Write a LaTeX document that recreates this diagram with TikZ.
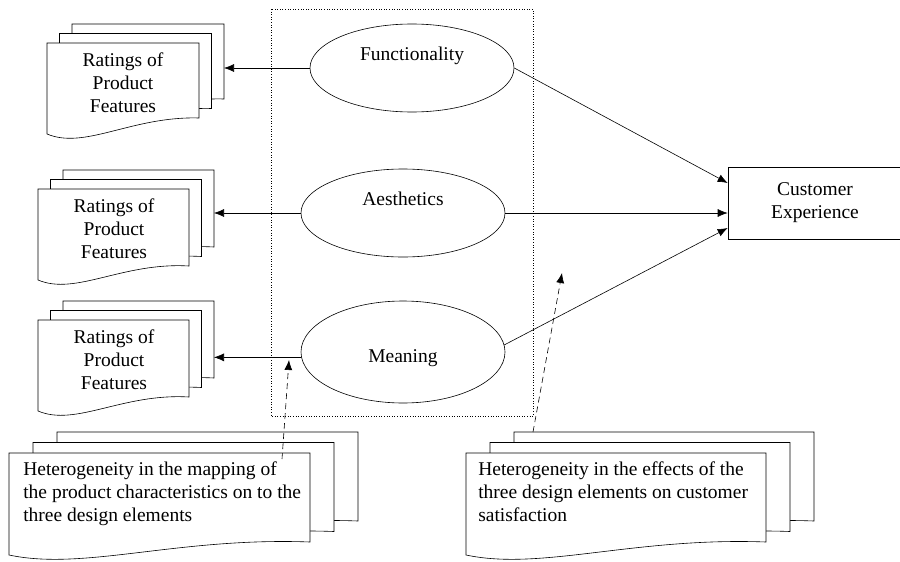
\documentclass[tikz,border=0pt]{standalone}
\usepackage{fontspec}
\setmainfont{Liberation Serif}
\usetikzlibrary{shapes.geometric,arrows.meta}

% one sheet: left, top, width, left height, right height
\newcommand{\sheet}[5]{%
  \draw[fill=white] ({#1},{#2+#4}) -- ({#1},{#2}) -- ({#1+#3},{#2}) -- ({#1+#3},{#2+#5})
    .. controls ({#1+0.56*#3},{#2+#4-18}) and ({#1+0.25*#3},{#2+#4+16}) .. ({#1},{#2+#4}) -- cycle;}
% three sheets, the back corner is named #1
\newcommand{\docstack}[8]{%
  \foreach \k in {2,1,0} {\sheet{#2+\k*(#7)}{#3+\k*(#8)}{#4}{#5}{#6}}
  \coordinate (#1) at ({#2+2*(#7)+#4},{#3+2*(#8)});}

\begin{document}
\begin{tikzpicture}[
  x=1pt, y=-1pt,
  font=\fontsize{19.5}{23}\selectfont,
  line width=0.6pt,
  >={Latex[length=10pt,width=8pt]},
  design/.style={ellipse, draw, minimum width=204pt, minimum height=88pt, inner sep=0pt},
  outcome/.style={rectangle, draw, minimum width=174pt, minimum height=72pt, align=center},
  ratings/.style={align=center, inner sep=0pt},
  note/.style={align=left, anchor=west, inner sep=0pt},
  hint/.style={->, dash pattern=on 6pt off 4pt}
]
\useasboundingbox (0,0) rectangle (900,562);

% design elements
\draw[dotted] (271,9) rectangle (533,416);
\node[design, text height=13pt, text depth=29pt] (func) at (412,68) {Functionality};
\node[design, text height=13pt, text depth=29pt] (aes) at (403,213) {Aesthetics};
\node[design, minimum height=102pt, text height=24pt, text depth=4pt] (mean) at (403,352) {Meaning};
\node[outcome] (cx) at (815,203) {Customer\\Experience};

% ratings of product features
\docstack{stackA}{47}{43}{152}{91}{75}{12.5}{-9.5}
\docstack{stackB}{38}{189}{151}{91}{77}{12.5}{-9.5}
\docstack{stackC}{38}{320}{151}{91}{77}{12.5}{-9.5}
\node[ratings] (ratingsA) at (123,83) {Ratings of\\Product\\Features};
\node[ratings] (ratingsB) at (114,229) {Ratings of\\Product\\Features};
\node[ratings] (ratingsC) at (114,360) {Ratings of\\Product\\Features};

% heterogeneity
\docstack{stackD}{9}{453}{301}{102}{89}{24}{-10.5}
\docstack{stackE}{466}{453}{300}{102}{89}{24}{-10.5}
\node[note] (mapping) at (23,494) {Heterogeneity in the mapping of\\the product characteristics on to the\\three design elements};
\node[note] (effects) at (478,492) {Heterogeneity in the effects of the\\three design elements on customer\\satisfaction};

\draw[->] (func.west) -- (func.west -| stackA);
\draw[->] (aes.west) -- (aes.west -| stackB);
\draw[->] (mean.183) -- (mean.183 -| stackC);
\draw[->] (func.east) -- ([yshift=20pt]cx.west);
\draw[->] (aes.east) -- (aes.east -| cx.west);
\draw[->] (mean.4) -- ([yshift=-25pt]cx.west);

\coordinate (mapfrom) at (282,459);
\coordinate (mapto) at (289,360);
\coordinate (effrom) at (533,432);
\coordinate (efto) at (562,273);
\draw[hint] (mapfrom) -- (mapto);
\draw[hint] (effrom) -- (efto);
\end{tikzpicture}
\end{document}
